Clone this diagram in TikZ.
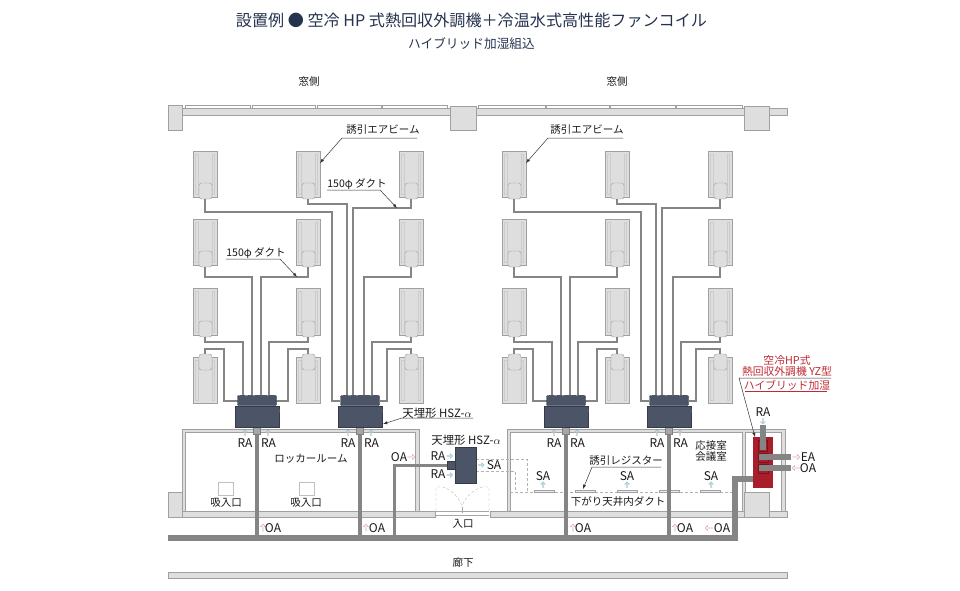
\documentclass[tikz,border=0pt]{standalone}
\usepackage{fontspec}
\setmainfont{Noto Sans CJK JP}
\usetikzlibrary{shapes.arrows}
\definecolor{hszblue}{HTML}{4C5468}
\definecolor{ductgray}{HTML}{858585}
\definecolor{wallgray}{HTML}{DEDEDE}
\definecolor{linegray}{HTML}{A0A0A0}
\definecolor{titleblue}{HTML}{26334F}
\definecolor{ybred}{HTML}{A81E2A}
\definecolor{tagred}{HTML}{BE2A34}
\tikzset{
  lab/.style={font=\fontsize{10.5}{12}\selectfont, inner sep=0pt, text=black!90},
  ablab/.style={font=\fontsize{12}{13}\selectfont, inner sep=0pt, text=black!90},
  hszlab/.style={font=\fontsize{11.4}{13}\selectfont, inner sep=0pt, text=black!90},
  redlab/.style={font=\fontsize{10.8}{12}\selectfont, inner sep=0pt, text=tagred},
  wall/.style={fill=wallgray, draw=linegray, line width=.5pt},
  duct/.style={draw=ductgray, line width=2.8pt},
  feed/.style={draw=ductgray, line width=3.8pt},
  mainduct/.style={draw=ductgray, line width=5.5pt},
  leader/.style={draw=black!80, line width=.5pt},
  sadash/.style={draw=black!30, line width=.35pt, densely dashed},
  airblue/.style={single arrow, fill=blue!25!cyan!35, draw=black!35, line width=.2pt, minimum height=6pt, minimum width=5pt, inner sep=0pt, single arrow head extend=.8pt},
  airpink/.style={single arrow, fill=white, draw=black!40!red!35, line width=.4pt, minimum height=7pt, minimum width=5pt, inner sep=0pt, single arrow head extend=.8pt},
  hsz/.style={fill=hszblue, draw=hszblue!70!black, line width=.4pt, inner sep=0pt},
}
% one beam unit: x, top, bottom, bump top
\newcommand{\beamunit}[4]{
  \fill[wallgray] (#1,#2) rectangle ++(24,#3-#2);
  \draw[linegray, line width=.4pt] (#1,#2) rectangle ++(24,#3-#2);
  \draw[black!20, line width=.3pt] (#1+2.5,#2+3) rectangle (#1+5,#3-3) (#1+19,#2+3) rectangle (#1+21.5,#3-3);
  \draw[fill=wallgray, draw=black!40, line width=.4pt, rounded corners=2.5pt] (#1+6,#4) rectangle ++(13,16);
}
\begin{document}
\begin{tikzpicture}[x=1pt,y=-1pt]
\useasboundingbox (0,0) rectangle (960,590);

% titles
\node [inner sep=0pt, text=titleblue, font=\fontsize{16.1}{18}\selectfont] (title) at (471.5,20) {設置例 ● 空冷 HP 式熱回収外調機＋冷温水式高性能ファンコイル};
\node [inner sep=0pt, text=titleblue, font=\fontsize{12.7}{14}\selectfont] (subtitle) at (471.5,44) {ハイブリッド加湿組込};
\node [lab] (mado1) at (309,82) {窓側};
\node [lab] (mado2) at (617,82) {窓側};

% window wall
\draw [wall] (182,108) rectangle (787,115);
\foreach \a/\b in {185/250,252/315,317/381,382/447,478/545,546/609,610/675,676/742}
  \draw [linegray, fill=white, line width=.4pt] (\a,105.5) rectangle (\b,108);
\draw [wall] (168,105) rectangle (182,130);
\draw [wall] (450,106) rectangle (476,130);
\draw [wall] (744,106) rectangle (769,130);

% rooms
\draw [wall, even odd rule] (182,429) rectangle (419,512) (185.5,432.5) rectangle (415.5,512);
\draw [wall, even odd rule] (507,429) rectangle (785,512) (510.5,432.5) rectangle (742,512) (745.5,432.5) rectangle (781.5,512);
\draw [wall] (182,511) rectangle (435,517);
\draw [wall] (490,511) rectangle (787,517);
\draw [wall] (168,492) rectangle (182,517);
\draw [wall] (744,492) rectangle (769,517);
\draw [wall] (168,572) rectangle (787,578);
\draw [black!25, fill=white, line width=.5pt] (299,482) rectangle (314,495);
\draw [black!25, fill=white, line width=.5pt] (218,482) rectangle (233,495);

% entrance
\draw [black!35, line width=.35pt] (436,511) -- (489,511) (436,515) -- (489,515) (462,507) -- (462,513);
\draw [sadash] (436,511) -- (436,487) -- (443,487) .. controls (452,490) and (460,498) .. (462,507);
\draw [sadash] (489,511) -- (489,487) -- (482,487) .. controls (473,490) and (464,498) .. (462,507);

% SA piping
\draw [sadash] (476,459) -- (527,459) -- (527,492);
\draw [sadash] (476,471) -- (515,471) -- (515,492);
\draw [sadash] (510,492) -- (732,492);
\foreach \a in {534,575,617,659,700}
  \draw [linegray, fill=wallgray!60, line width=.4pt] (\a,490) rectangle ++(20,2);

% both groups of beams
\foreach \g/\dx in {l/0,r/309} {
\begin{scope}[xshift=\dx]
  \foreach \c in {193,296,399} {
    \beamunit{\c}{151}{197}{183}
    \beamunit{\c}{219}{265}{251}
    \beamunit{\c}{288}{335}{321}
    \beamunit{\c}{357}{403}{354}
  }
  \foreach \ux/\uy/\hy/\vx in {308/199/204/347,411/199/208/353,205/267/277/252,308/267/277/261,411/267/277/364,205/337/342/243,308/337/342/269,411/337/342/372}
    \draw [duct] (\ux,\uy) |- (\vx,\hy) -- (\vx,396);
  \foreach \ux/\uy/\hy/\vx/\ex in {205/199/212/332/340,205/354/349/224/238,308/354/349/288/276,411/354/349/387/380}
    \draw [duct] (\ux,\uy) |- (\vx,\hy) |- (\ex,401);
  \foreach \b in {234,337} {
    \draw [feed] (\b+23,434) -- (\b+23,538);
    \draw [fill=black!35, draw=black!50, line width=.3pt] (\b+19,427) rectangle ++(7.5,7);
    \node [hsz, minimum width=39pt, minimum height=10pt, rounded corners=1pt] (top\g\b) at (\b+23,400.5) {};
    \node [hsz, minimum width=44pt, minimum height=20.5pt] (body\g\b) at (\b+23,416.7) {};
    \foreach \t in {8,16,23,30,38}
      \fill [hszblue] (\b+\t-2.5,394.5) rectangle ++(5,2);
    \fill [hszblue] (\b+44,409) rectangle ++(2,4);
    \node [airblue, shape border rotate=90] (ra\g\b a) at (\b+11,433) {};
    \node [airblue, shape border rotate=90] (ra\g\b b) at (\b+34,433) {};
    \node [ablab] (ralab\g\b a) at (\b+11,443) {RA};
    \node [ablab] (ralab\g\b b) at (\b+34.5,443) {RA};
  }
\end{scope}
}

% OA ducts
\draw [mainduct] (168,538) -- (735,538) -- (735,479) -- (764,479);
\coordinate (oadrop) at (394,538);
\coordinate (hszjoint) at (450,465);
\draw [feed, line width=3pt] (oadrop) |- (hszjoint);

% ceiling unit at the entrance
\node [hsz, minimum width=9pt, minimum height=8pt] (hszjoin) at (451.5,465) {};
\node [hsz, minimum width=21pt, minimum height=36pt] (hszmid) at (465.5,465) {};
\node [hszlab] (hszlab) at (466,440) {天埋形 HSZ-$\alpha$};
\node [ablab] (ra1) at (438,456) {RA};
\node [ablab] (ra2) at (438,474) {RA};
\node [airblue] (raa1) at (449.5,456) {};
\node [airblue] (raa2) at (449.5,475) {};
\node [airblue] (saa) at (481,465) {};
\node [ablab] (salab) at (494,465) {SA};

% SA outlets
\foreach \x in {543,627,711} {
  \node [ablab] (sa\x) at (\x,476) {SA};
  \node [airblue, shape border rotate=90] (saa\x) at (\x,485) {};
}

% room texts
\node [lab] (locker) at (311,459) {ロッカールーム};
\node [lab] (suikomi1) at (226,503) {吸入口};
\node [lab] (suikomi2) at (306,503) {吸入口};
\node [lab] (iriguchi) at (463,524) {入口};
\node [lab] (rouka) at (463,563) {廊下};
\node [lab] (sagari) at (618,502) {下がり天井内ダクト};
\node [lab, align=center] (kaigi) at (711,451) {応接室\\[-1.5pt]会議室};

% OA texts
\foreach \a/\t in {263/273,366/377,573/583,675/685} {
  \node [airpink, shape border rotate=90] (oaa\a) at (\a,528) {};
  \node [ablab] (oa\a) at (\t,528) {OA};
}
\node [airpink, shape border rotate=180] (oaa709) at (709,528) {};
\node [ablab] (oa709) at (722,528) {OA};
\node [ablab] (oatop) at (399,457) {OA};
\node [airpink] (oatopa) at (411,457) {};

% tags
\node [lab] (beamtag1) at (383,130) {誘引エアビーム};
\coordinate (beamtag1r) at (417,138);
\coordinate (beamtag1l) at (342,138);
\coordinate (beamtip1) at (320,163);
\draw [leader, -latex] (beamtag1r) -- (beamtag1l) -- (beamtip1);
\node [lab] (beamtag2) at (587,130) {誘引エアビーム};
\coordinate (beamtag2r) at (623,138);
\coordinate (beamtag2l) at (548,138);
\coordinate (beamtip2) at (526,163);
\draw [leader, -latex] (beamtag2r) -- (beamtag2l) -- (beamtip2);
\node [lab] (ducttag1) at (357,184) {150φ ダクト};
\coordinate (ducttag1l) at (327,190);
\coordinate (ducttag1r) at (380,190);
\coordinate (ducttip1) at (397,208);
\draw [leader, -latex] (ducttag1l) -- (ducttag1r) -- (ducttip1);
\node [lab] (ducttag2) at (256,253) {150φ ダクト};
\coordinate (ducttag2l) at (226,259);
\coordinate (ducttag2r) at (280,259);
\coordinate (ducttip2) at (297,277);
\draw [leader, -latex] (ducttag2l) -- (ducttag2r) -- (ducttip2);
\node [hszlab] (hsztag) at (437,413) {天埋形 HSZ-$\alpha$};
\coordinate (hsztagr) at (473,418);
\coordinate (hsztagl) at (402,418);
\coordinate (hsztip) at (383,424);
\draw [leader, -latex] (hsztagr) -- (hsztagl) -- (hsztip);
\node [lab] (regtag) at (626,461) {誘引レジスター};
\coordinate (regtagr) at (661,467);
\coordinate (regtagl) at (592,467);
\coordinate (regtip) at (583,489);
\draw [leader, -latex] (regtagr) -- (regtagl) -- (regtip);

% outside air unit
\node [fill=ybred, inner sep=0pt, minimum width=20pt, minimum height=51pt] (ybunit) at (763,462.5) {};
\draw [ybred!70!black, line width=.5pt] (758.5,440) rectangle (767.5,451) (758,453) rectangle (768,462) (758,464) rectangle (768,473);
\draw [mainduct] (763,425) -- (763,450);
\draw [mainduct] (759,457) -- (791,457);
\draw [mainduct] (759,468) -- (791,468);
\node [ablab] (ybra) at (763,412) {RA};
\node [airblue, shape border rotate=270] (ybraa) at (763,421) {};
\node [airpink] (eaa) at (796,457) {};
\node [airpink, shape border rotate=180] (oaa) at (796,468) {};
\node [ablab] (ybea) at (808,457) {EA};
\node [ablab] (yboa) at (808,468) {OA};

% red tag
\node [redlab] (ybtag1) at (787,360) {空冷HP式};
\node [redlab] (ybtag2) at (787,371) {熱回収外調機 YZ型};
\node [redlab] (ybtag3) at (787,385) {ハイブリッド加湿};
\coordinate (ybl) at (739,378);
\coordinate (ybr) at (831,378);
\coordinate (yblow1) at (745,391.5);
\coordinate (yblow2) at (827,391.5);
\coordinate (ybtip) at (755,437);
\draw [leader, -latex] (ybr) -- (ybl) -- (ybtip);
\draw [leader, draw=tagred] (yblow1) -- (yblow2);
\end{tikzpicture}
\end{document}
